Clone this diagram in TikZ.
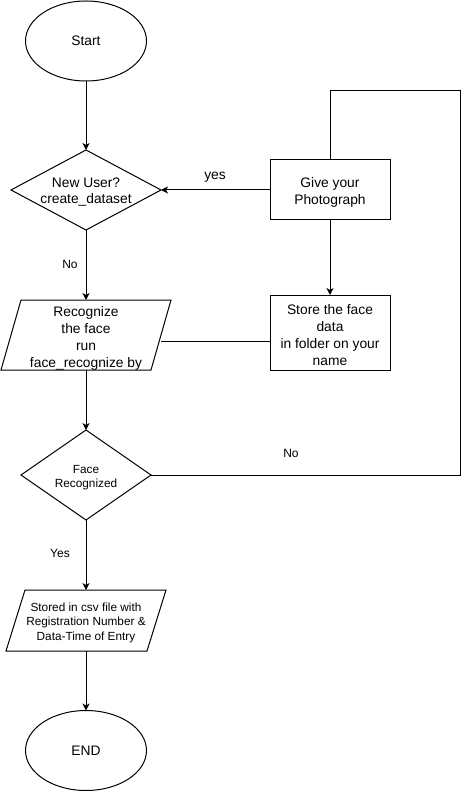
\documentclass[tikz,border=0pt]{standalone}
\usepackage{fontspec}
\setmainfont{Liberation Sans}
\usetikzlibrary{shapes.geometric,arrows.meta}
\begin{document}
\begin{tikzpicture}[x=1pt,y=-1pt,
  line width=1pt,
  every node/.style={inner sep=0pt, outer sep=0pt},
  mainfont/.style={font=\fontsize{13.8}{16.8}\selectfont, align=center},
  smallfont/.style={font=\fontsize{11.8}{14.5}\selectfont, align=center},
  oval/.style={ellipse, draw, minimum width=121pt, minimum height=80pt, mainfont},
  decision/.style={diamond, draw, inner sep=0pt},
  procbox/.style={rectangle, draw, minimum width=120pt},
  iobox/.style={rectangle, draw=none},
  arr/.style={-{Stealth[length=7pt,width=7pt,inset=2pt]}},
  edgelbl/.style={font=\fontsize{12}{14}\selectfont}
]
\useasboundingbox (0,0) rectangle (462,791);

% nodes
\node[oval] (start) at (86,41) {Start};
\node[decision, minimum width=150pt, minimum height=80pt] (d1) at (86,190) {};
\node[mainfont] (d1t) at (86,192) {New User?\\create\_dataset};
\node[procbox, minimum height=60pt] (give) at (330,190) {};
\node[mainfont] (givet) at (330,192.5) {Give your\\Photograph};
\node[procbox, minimum height=75pt] (store) at (330,332.5) {};
\node[mainfont] (storet) at (330,335) {Store the face\\data\\in folder on your\\name};
\node[iobox, minimum width=150pt, minimum height=70pt] (p1) at (86,335) {};
\node[mainfont] (p1t) at (86,338.5) {Recognize\\the face\\run\\face\_recognize by};
\draw ([xshift=-10pt]p1.south west) -- ([xshift=-10pt]p1.south east) -- ([xshift=10pt]p1.north east) -- ([xshift=10pt]p1.north west) -- cycle;
\node[decision, minimum width=130pt, minimum height=90pt] (d2) at (86,475) {};
\node[smallfont] (d2t) at (86,477.5) {Face\\Recognized};
\node[iobox, minimum width=141pt, minimum height=61pt] (p2) at (86,620.5) {};
\node[smallfont] (p2t) at (86,622.5) {Stored in csv file with\\Registration Number \&\\Data-Time of Entry};
\draw ([xshift=-9.5pt]p2.south west) -- ([xshift=-9.5pt]p2.south east) -- ([xshift=9.5pt]p2.north east) -- ([xshift=9.5pt]p2.north west) -- cycle;
\node[oval] (end) at (86,750.5) {END};

% labels
\node[font=\fontsize{13.8}{16}\selectfont] (lyes) at (215,177) {yes};
\node[edgelbl] (lno1) at (70,264) {No};
\node[edgelbl] (lno2) at (291,453) {No};
\node[edgelbl] (lyes2) at (60,553) {Yes};

% connectors
\coordinate (lr) at (460.5,475);
\coordinate (ur) at (460.5,90.5);
\draw[arr] (start.south) -- (d1.north);
\draw[arr] (give.west) -- (d1.east);
\draw[arr] (give.south) -- (store.north);
\draw[arr] (d1.south) -- (p1.north);
\draw ([yshift=-8.5pt]store.west) -- ([yshift=-8.5pt]store.west -| p1.east);
\draw[arr] (p1.south) -- (d2.north);
\draw[arr] (d2.south) -- (p2.north);
\draw[arr] (p2.south) -- (end.north);
\draw (d2.east) -- (lr) -- (ur) -| (give.north);
\end{tikzpicture}
\end{document}
